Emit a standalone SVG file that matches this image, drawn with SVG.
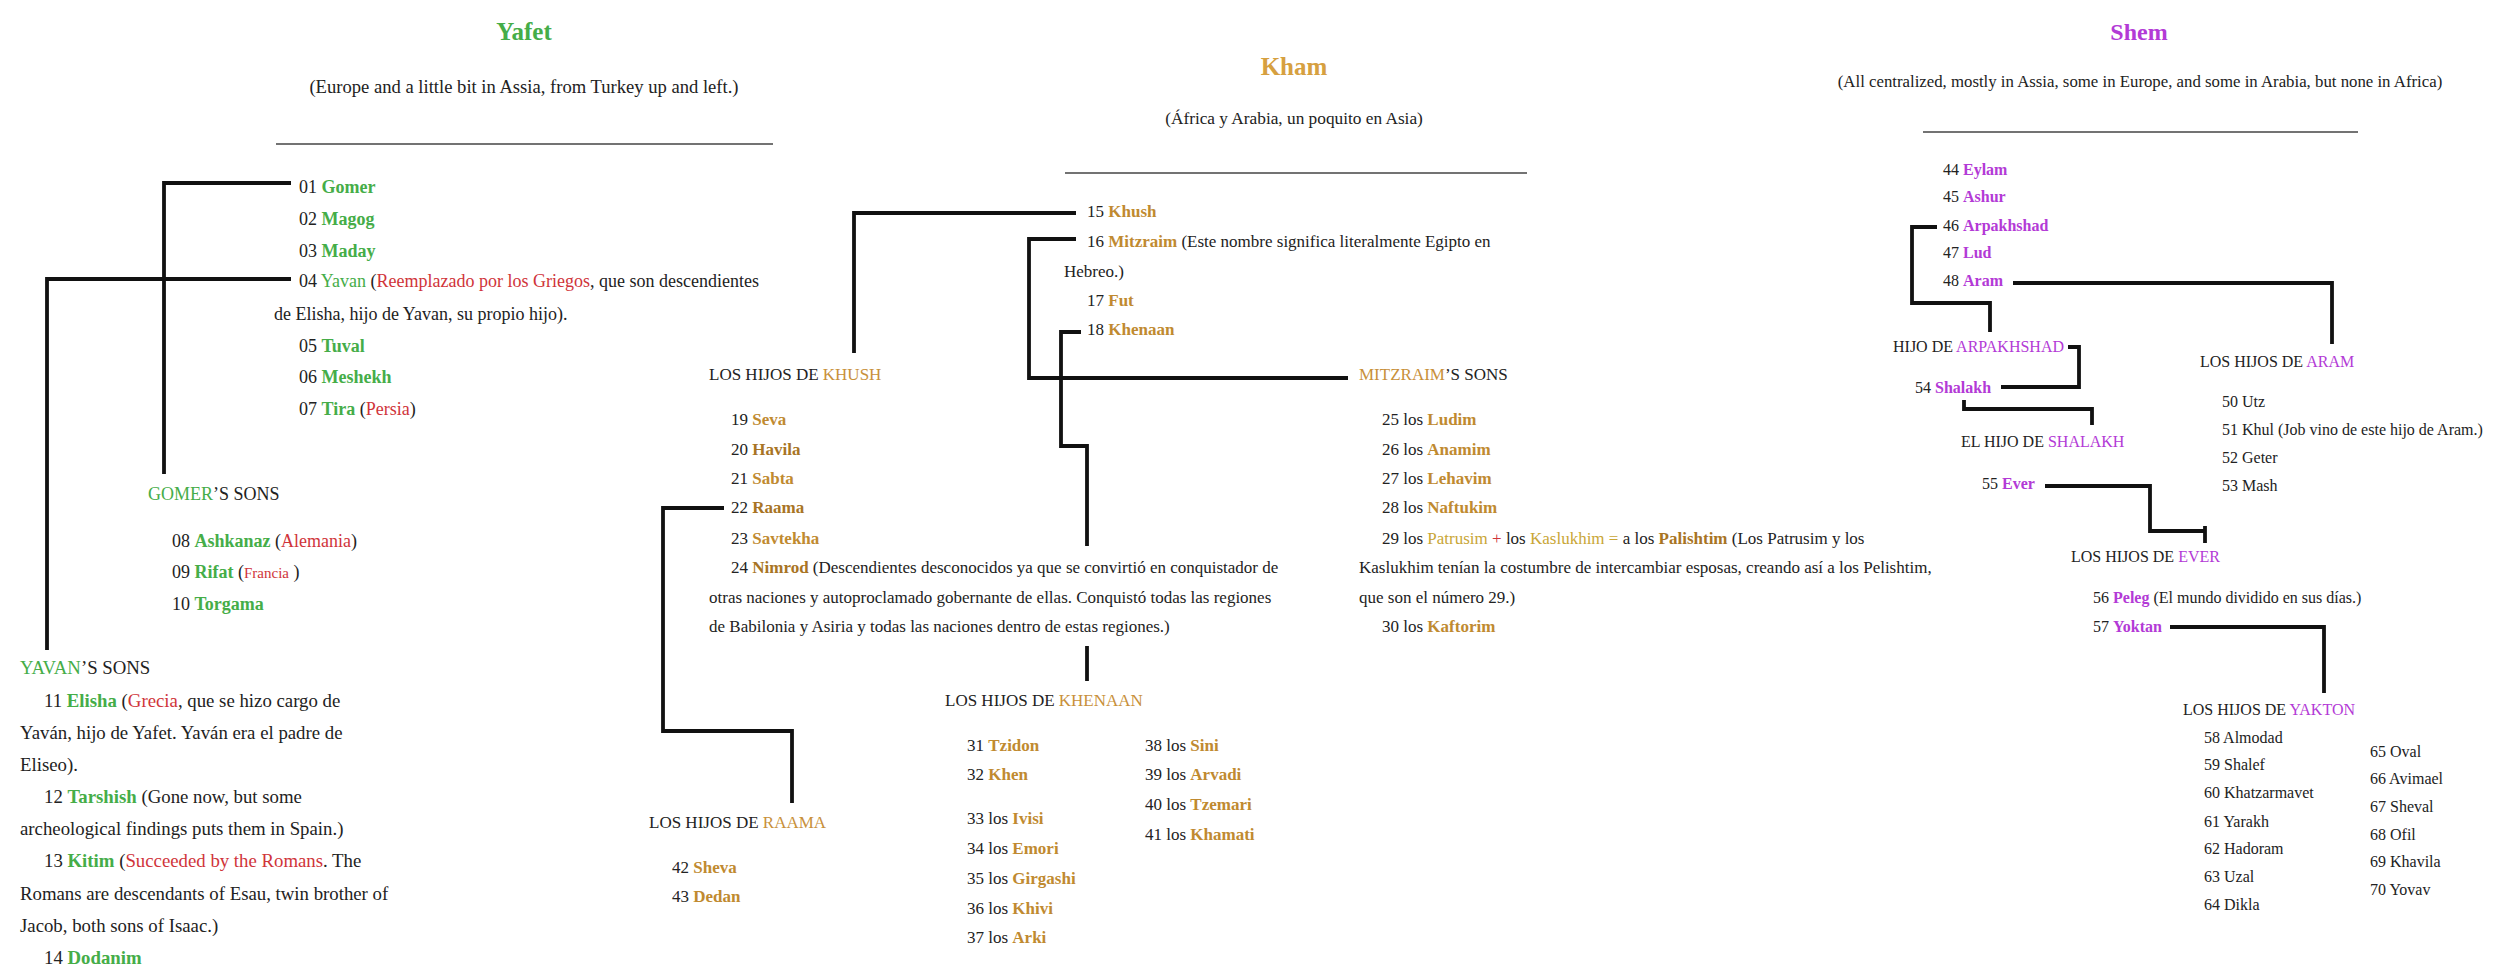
<svg xmlns="http://www.w3.org/2000/svg" width="2500" height="980" viewBox="0 0 2500 980">
<style>
text{font-family:"Liberation Serif","Times New Roman",serif;fill:#222}
.y{font-size:18px}
.k{font-size:17px}
.s{font-size:16px}
.ttl{font-size:25px;font-weight:bold}
.c{text-anchor:middle}
.g{fill:#45ad48}
.gb{fill:#45ad48;font-weight:bold}
.r{fill:#d0343a}
.o{fill:#c8903a}
.ob{fill:#c08a30;font-weight:bold}
.od{fill:#a87424;font-weight:bold}
.oy{fill:#c9a636}
.p{fill:#b33ad6}
.pb{fill:#b33ad6;font-weight:bold}
.rule{stroke:#444;stroke-width:1.5}
.cn{fill:none;stroke:#111;stroke-width:3.8;stroke-linejoin:miter;stroke-linecap:butt}
</style>
<rect width="2500" height="980" fill="#fff"/>

<g id="connectors">
<path class="cn" d="M291,183 H164 V474"/>
<path class="cn" d="M291,279 H47 V650"/>
<path class="cn" d="M1076,213 H854 V353"/>
<path class="cn" d="M1076,239 H1029 V378 H1348"/>
<path class="cn" d="M1081,332 H1061 V446 H1087 V546"/>
<path class="cn" d="M1087,646 V681"/>
<path class="cn" d="M724,508 H663 V731 H792 V803"/>
<path class="cn" d="M1937,227 H1912 V303 H1990 V332"/>
<path class="cn" d="M2013,283 H2332 V344"/>
<path class="cn" d="M2068,347 H2079 V387 H2001"/>
<path class="cn" d="M1964,400 V409 H2092 V425"/>
<path class="cn" d="M2045,486 H2150 V531 H2205"/>
<path class="cn" d="M2205,526 V543"/>
<path class="cn" d="M2170,627 H2324 V693"/>
</g>

<g id="yafet">
<text class="ttl c g" x="524" y="40">Yafet</text>
<text class="c" x="524" y="93" style="font-size:18.6px">(Europe and a little bit in Assia, from Turkey up and left.)</text>
<line class="rule" x1="276" y1="144" x2="773" y2="144"/>
</g>
<g id="yafet-sons" class="y">
<text x="299" y="193">01 <tspan class="gb">Gomer</tspan></text>
<text x="299" y="225">02 <tspan class="gb">Magog</tspan></text>
<text x="299" y="257">03 <tspan class="gb">Maday</tspan></text>
<text x="299" y="287">04 <tspan class="g">Yavan</tspan> (<tspan class="r">Reemplazado por los Griegos</tspan>, que son descendientes</text>
<text x="274" y="320">de Elisha, hijo de Yavan, su propio hijo).</text>
<text x="299" y="352">05 <tspan class="gb">Tuval</tspan></text>
<text x="299" y="383">06 <tspan class="gb">Meshekh</tspan></text>
<text x="299" y="415">07 <tspan class="gb">Tira</tspan> (<tspan class="r">Persia</tspan>)</text>
</g>
<g id="gomer-sons" class="y">
<text x="148" y="500"><tspan class="g">GOMER</tspan>’S SONS</text>
<text x="172" y="547">08 <tspan class="gb">Ashkanaz</tspan> (<tspan class="r">Alemania</tspan>)</text>
<text x="172" y="578">09 <tspan class="gb">Rifat</tspan> (<tspan class="r" style="font-size:15px">Francia</tspan> )</text>
<text x="172" y="610">10 <tspan class="gb">Torgama</tspan></text>
</g>
<g id="yavan-sons" style="font-size:18.8px">
<text x="20" y="674"><tspan class="g">YAVAN</tspan>’S SONS</text>
<text x="44" y="707">11 <tspan class="gb">Elisha</tspan> (<tspan class="r">Grecia</tspan>, que se hizo cargo de</text>
<text x="20" y="739">Yaván, hijo de Yafet. Yaván era el padre de</text>
<text x="20" y="771">Eliseo).</text>
<text x="44" y="803">12 <tspan class="gb">Tarshish</tspan> (Gone now, but some</text>
<text x="20" y="835">archeological findings puts them in Spain.)</text>
<text x="44" y="867">13 <tspan class="gb">Kitim</tspan> (<tspan class="r">Succeeded by the Romans</tspan>. The</text>
<text x="20" y="900">Romans are descendants of Esau, twin brother of</text>
<text x="20" y="932">Jacob, both sons of Isaac.)</text>
<text x="44" y="964">14 <tspan class="gb">Dodanim</tspan></text>
</g>

<g id="kham">
<text class="ttl c o" x="1294" y="75" style="fill:#d6a040">Kham</text>
<text class="c" x="1294" y="124" style="font-size:17.3px">(África y Arabia, un poquito en Asia)</text>
<line class="rule" x1="1065" y1="173" x2="1527" y2="173"/>
</g>
<g id="kham-sons" class="k">
<text x="1087" y="217">15 <tspan class="ob">Khush</tspan></text>
<text x="1087" y="247">16 <tspan class="ob">Mitzraim</tspan> (Este nombre significa literalmente Egipto en</text>
<text x="1064" y="277">Hebreo.)</text>
<text x="1087" y="306">17 <tspan class="ob">Fut</tspan></text>
<text x="1087" y="335">18 <tspan class="ob">Khenaan</tspan></text>
</g>
<g id="khush-sons" class="k">
<text x="709" y="380">LOS HIJOS DE <tspan class="o">KHUSH</tspan></text>
<text x="731" y="425">19 <tspan class="ob">Seva</tspan></text>
<text x="731" y="455">20 <tspan class="od">Havila</tspan></text>
<text x="731" y="484">21 <tspan class="ob">Sabta</tspan></text>
<text x="731" y="513">22 <tspan class="od">Raama</tspan></text>
<text x="731" y="544">23 <tspan class="ob">Savtekha</tspan></text>
<text x="731" y="573">24 <tspan class="od">Nimrod</tspan> (Descendientes desconocidos ya que se convirtió en conquistador de</text>
<text x="709" y="603">otras naciones y autoproclamado gobernante de ellas. Conquistó todas las regiones</text>
<text x="709" y="632">de Babilonia y Asiria y todas las naciones dentro de estas regiones.)</text>
</g>
<g id="mitzraim-sons" class="k">
<text x="1359" y="380"><tspan class="o">MITZRAIM</tspan>’S SONS</text>
<text x="1382" y="425">25 los <tspan class="ob">Ludim</tspan></text>
<text x="1382" y="455">26 los <tspan class="ob">Anamim</tspan></text>
<text x="1382" y="484">27 los <tspan class="ob">Lehavim</tspan></text>
<text x="1382" y="513">28 los <tspan class="ob">Naftukim</tspan></text>
<text x="1382" y="544">29 los <tspan class="oy">Patrusim</tspan> <tspan class="r">+</tspan> los <tspan class="oy">Kaslukhim</tspan> <tspan class="oy">=</tspan> a los <tspan class="od">Palishtim</tspan> (Los Patrusim y los</text>
<text x="1359" y="573">Kaslukhim tenían la costumbre de intercambiar esposas, creando así a los Pelishtim,</text>
<text x="1359" y="603">que son el número 29.)</text>
<text x="1382" y="632">30 los <tspan class="ob">Kaftorim</tspan></text>
</g>
<g id="khenaan-sons" class="k">
<text x="945" y="706">LOS HIJOS DE <tspan class="o">KHENAAN</tspan></text>
<text x="967" y="751">31 <tspan class="ob">Tzidon</tspan></text>
<text x="967" y="780">32 <tspan class="ob">Khen</tspan></text>
<text x="967" y="824">33 los <tspan class="ob">Ivisi</tspan></text>
<text x="967" y="854">34 los <tspan class="ob">Emori</tspan></text>
<text x="967" y="884">35 los <tspan class="ob">Girgashi</tspan></text>
<text x="967" y="914">36 los <tspan class="ob">Khivi</tspan></text>
<text x="967" y="943">37 los <tspan class="ob">Arki</tspan></text>
<text x="1145" y="751">38 los <tspan class="ob">Sini</tspan></text>
<text x="1145" y="780">39 los <tspan class="ob">Arvadi</tspan></text>
<text x="1145" y="810">40 los <tspan class="ob">Tzemari</tspan></text>
<text x="1145" y="840">41 los <tspan class="ob">Khamati</tspan></text>
</g>
<g id="raama-sons" class="k">
<text x="649" y="828">LOS HIJOS DE <tspan class="o">RAAMA</tspan></text>
<text x="672" y="873">42 <tspan class="ob">Sheva</tspan></text>
<text x="672" y="902">43 <tspan class="ob">Dedan</tspan></text>
</g>

<g id="shem">
<text class="ttl c p" x="2139" y="40" style="font-size:24px">Shem</text>
<text class="c" x="2140" y="87" style="font-size:16.8px">(All centralized, mostly in Assia, some in Europe, and some in Arabia, but none in Africa)</text>
<line class="rule" x1="1923" y1="132" x2="2358" y2="132"/>
</g>
<g id="shem-sons" class="s">
<text x="1943" y="175">44 <tspan class="pb">Eylam</tspan></text>
<text x="1943" y="202">45 <tspan class="pb">Ashur</tspan></text>
<text x="1943" y="231">46 <tspan class="pb">Arpakhshad</tspan></text>
<text x="1943" y="258">47 <tspan class="pb">Lud</tspan></text>
<text x="1943" y="286">48 <tspan class="pb">Aram</tspan></text>
</g>
<g id="arpakhshad-son" class="s">
<text x="1893" y="352">HIJO DE <tspan class="p">ARPAKHSHAD</tspan></text>
<text x="1915" y="393">54 <tspan class="pb">Shalakh</tspan></text>
</g>
<g id="shalakh-son" class="s">
<text x="1961" y="447">EL HIJO DE <tspan class="p">SHALAKH</tspan></text>
<text x="1982" y="489">55 <tspan class="pb">Ever</tspan></text>
</g>
<g id="aram-sons" class="s">
<text x="2200" y="367">LOS HIJOS DE <tspan class="p">ARAM</tspan></text>
<text x="2222" y="407">50 Utz</text>
<text x="2222" y="435">51 Khul (Job vino de este hijo de Aram.)</text>
<text x="2222" y="463">52 Geter</text>
<text x="2222" y="491">53 Mash</text>
</g>
<g id="ever-sons" class="s">
<text x="2071" y="562">LOS HIJOS DE <tspan class="p">EVER</tspan></text>
<text x="2093" y="603">56 <tspan class="pb">Peleg</tspan> (El mundo dividido en sus días.)</text>
<text x="2093" y="632">57 <tspan class="pb">Yoktan</tspan></text>
</g>
<g id="yakton-sons" class="s">
<text x="2183" y="715">LOS HIJOS DE <tspan class="p">YAKTON</tspan></text>
<text x="2204" y="743">58 Almodad</text>
<text x="2204" y="770">59 Shalef</text>
<text x="2204" y="798">60 Khatzarmavet</text>
<text x="2204" y="827">61 Yarakh</text>
<text x="2204" y="854">62 Hadoram</text>
<text x="2204" y="882">63 Uzal</text>
<text x="2204" y="910">64 Dikla</text>
<text x="2370" y="757">65 Oval</text>
<text x="2370" y="784">66 Avimael</text>
<text x="2370" y="812">67 Sheval</text>
<text x="2370" y="840">68 Ofil</text>
<text x="2370" y="867">69 Khavila</text>
<text x="2370" y="895">70 Yovav</text>
</g>
</svg>
